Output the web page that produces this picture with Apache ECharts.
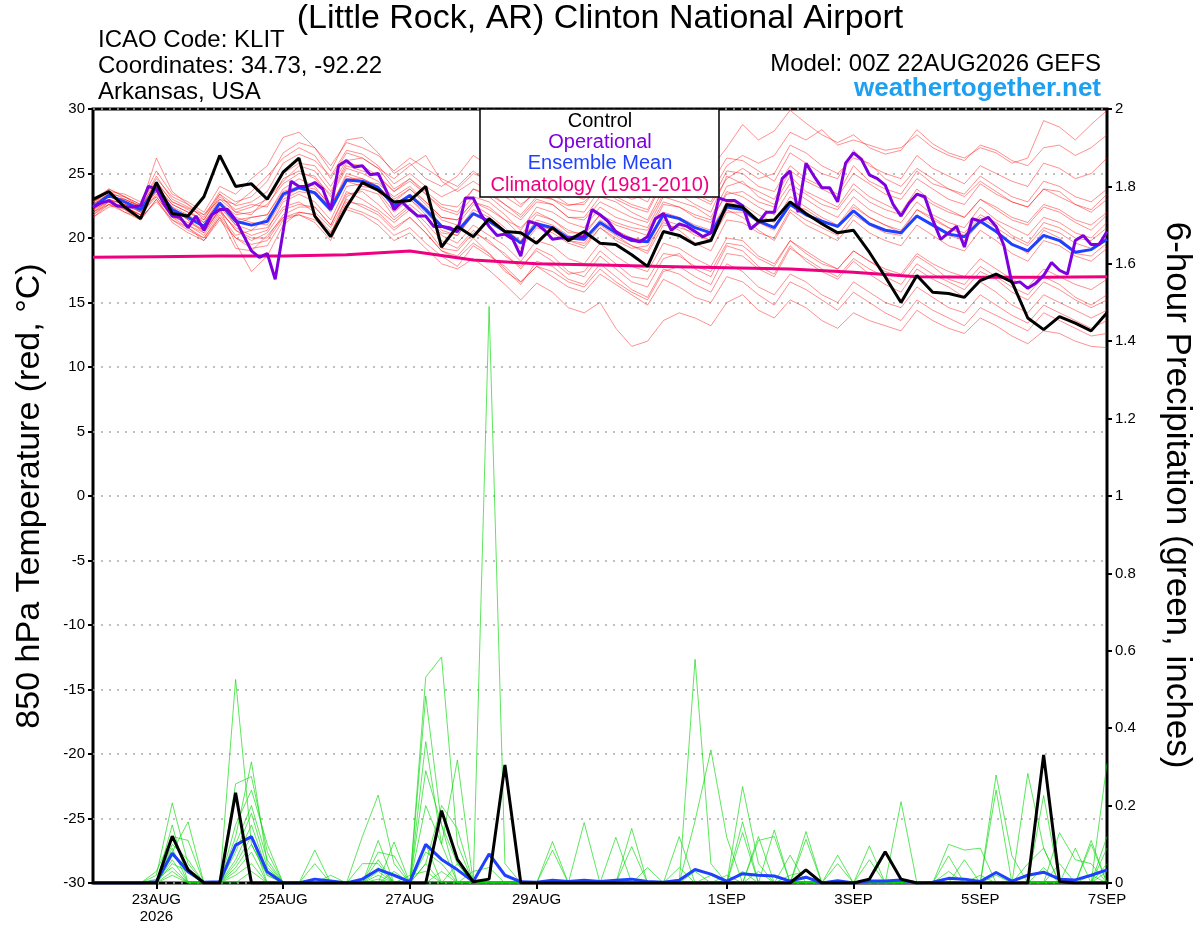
<!DOCTYPE html>
<html>
<head>
<meta charset="utf-8">
<title>KLIT GEFS 850 hPa temperature / precipitation</title>
<script src="https://cdn.jsdelivr.net/npm/echarts@6/dist/echarts.min.js"></script>
<style>
  html, body { margin: 0; padding: 0; background: #fff; }
  #chart { width: 1200px; height: 927px; }
</style>
</head>
<body>
<div id="chart"></div>
<script>
var FONT = '"Liberation Sans", Arial, Helvetica, sans-serif';

// forecast hours from 00Z 22AUG2026, labelled days
var labelHours = [24, 72, 120, 168, 240, 288, 336, 384];
var labelText = ['23AUG\n2026', '25AUG', '27AUG', '29AUG', '1SEP', '3SEP', '5SEP', '7SEP'];

// 850 hPa temperature, 6-hourly (65 values)
var tempControl = [23.0,23.6,22.4,21.5,24.3,21.9,21.7,23.2,26.4, 24.0,24.2,23.0,25.1,26.2,21.7,20.1,22.4, 24.3,23.7,22.8,22.9,24.0,19.3,20.9,20.1, 21.5,20.5,20.4,19.6,20.8,19.8,20.5,19.6, 19.5,18.7,17.8,20.5,20.2,19.5,19.8,22.6, 22.4,21.3,21.4,22.8,21.9,21.1,20.4,20.6, 18.9,17.0,15.0,17.1,15.8,15.7,15.4,16.7, 17.2,16.6,13.8,12.9,13.9,13.4,12.8,14.2];
var tempMean = [22.4,23.3,22.8,22.2,23.9,22.2,21.6,20.9,22.7, 21.3,21.0,21.3,23.4,23.9,23.5,22.2,24.5, 24.4,23.9,22.5,23.3,22.2,20.9,20.5,21.9, 21.3,20.5,19.6,21.1,20.8,20.0,19.9,21.2, 20.4,19.8,19.7,21.8,21.5,20.8,20.4,22.4, 22.2,21.3,20.8,22.6,21.8,21.3,20.9,22.1, 21.1,20.6,20.4,21.7,21.0,20.3,20.1,21.3, 20.5,19.5,19.0,20.2,19.8,18.9,19.1,19.9];
// operational run, 3-hourly (129 values)
var tempOper = [22.4,22.7,22.9,22.5,22.4,22.4,22.5,24.0,23.8,22.6,21.7,21.6,20.8,21.7,20.6,21.8,
  22.2,22.2,21.4,20.2,19.0,18.5,18.8,16.8,20.5,24.4,24.0,24.0,24.3,23.8,22.2,25.6,
  26.0,25.5,25.6,24.9,25.0,23.7,22.2,22.8,22.2,21.7,21.7,20.9,20.9,20.8,20.5,23.1,
  23.1,21.8,20.9,20.2,20.3,19.9,18.6,21.3,21.1,20.6,19.9,20.0,20.0,20.1,20.1,22.2,
  21.8,21.3,20.5,20.1,19.9,19.7,20.1,21.5,21.9,20.6,21.1,20.9,20.5,20.1,20.4,23.1,
  22.9,22.9,22.5,20.7,21.2,22.0,22.0,24.6,25.2,22.0,25.8,24.8,23.9,23.9,22.8,25.8,
  26.6,26.1,24.9,24.6,24.1,22.6,21.7,22.7,23.4,23.2,21.4,19.9,20.4,20.9,19.3,21.5,
  21.3,21.6,20.9,19.4,16.5,16.6,16.1,16.5,17.1,18.1,17.5,17.2,19.8,20.2,19.5,19.5,
  20.5];
// 1981-2010 climatology, daily
var tempClim = [18.5,18.55,18.6,18.6,18.7,19.0,18.3,18.0,17.9,17.8,17.7,17.6,17.35,17.0,16.95,16.95,17.0];

// ensemble members, 6-hourly
var tempMembers = [
 [22.8,23.6,23.0,22.5,24.3,22.8,22.3,21.8,23.4, 22.5,22.8,23.6,25.8,26.5,26.0,24.8,26.8, 26.5,25.6,24.2,25.0,24.0,23.2,23.8,25.0, 24.5,23.8,22.6,23.5,23.0,22.5,22.8,24.0, 23.6,23.0,23.4,25.2,25.0,24.6,25.4,27.0, 28.8,27.6,28.3,29.9,28.9,28.0,27.4,28.0, 27.0,26.5,26.8,28.4,27.3,26.6,26.2,27.0, 26.6,25.8,26.2,29.1,28.6,27.6,28.8,29.9],
 [21.8,22.6,22.0,21.4,23.0,21.2,20.4,19.8,21.6, 20.0,19.5,19.8,21.6,22.0,21.8,20.5,22.2, 21.8,21.0,19.8,20.4,19.2,18.0,17.6,18.4, 17.5,16.4,15.2,16.5,15.8,14.6,14.2,15.0, 13.0,11.6,12.0,13.6,14.2,13.8,13.2,15.0, 15.6,14.4,13.8,15.2,14.6,13.6,13.0,14.2, 13.6,13.2,12.8,14.4,13.6,13.0,12.6,13.8, 13.2,12.4,11.8,12.8,12.6,12.0,11.6,11.5],
 [22.0,23.0,22.6,22.0,23.6,21.8,21.0,20.2,22.0, 20.8,20.2,20.6,22.8,23.4,22.8,21.4,24.0, 24.2,23.6,22.0,23.0,21.8,20.2,19.6,21.0, 20.2,19.4,18.2,19.8,19.4,18.4,18.0,19.6, 18.6,17.8,17.4,19.6,19.2,18.4,17.8,20.0, 19.8,18.6,18.0,19.8,19.0,18.2,17.6,19.0, 18.2,17.4,17.0,18.6,17.8,16.8,16.4,17.8, 17.0,16.2,15.6,17.0,16.4,15.4,14.8,15.6],
 [22.6,23.4,22.4,21.8,24.0,22.6,22.0,21.4,23.2, 22.2,22.6,22.4,24.6,25.2,24.6,23.4,25.6, 25.2,24.8,23.6,24.6,23.4,22.2,21.8,23.2, 22.8,21.8,20.6,22.4,22.0,21.2,20.8,22.4, 21.6,21.2,20.8,23.2,22.8,22.4,21.6,24.0, 24.4,23.2,22.6,24.8,23.6,23.0,22.4,24.2, 23.2,22.6,22.0,23.8,22.8,22.2,21.6,23.0, 22.2,21.4,21.0,22.4,22.0,21.2,20.6,21.8],
 [21.6,22.4,22.6,22.4,23.2,21.6,21.2,20.6,22.2, 20.6,19.8,20.4,22.2,22.6,22.4,21.0,23.4, 23.6,22.6,21.4,22.4,21.2,19.8,19.2,20.6, 19.6,18.8,17.6,19.2,18.6,17.4,17.0,18.6, 17.6,16.6,16.2,18.4,18.8,17.6,17.0,19.4, 19.0,17.8,17.2,19.4,18.2,17.4,16.8,18.2, 17.2,16.4,15.8,17.6,16.8,16.2,15.4,16.6, 15.8,14.8,14.2,15.6,15.0,14.4,13.8,14.4],
 [23.0,23.8,23.2,22.6,24.8,23.0,22.4,21.6,23.6, 22.8,23.2,24.4,26.6,27.4,27.0,25.2,27.6, 27.8,26.6,25.0,25.8,24.6,24.0,24.8,26.4, 25.6,24.4,23.2,24.4,24.0,23.4,23.0,24.6, 24.0,23.4,22.8,25.0,25.6,24.8,24.2,26.2, 26.0,25.2,24.4,26.6,25.8,25.0,24.6,26.8, 25.6,25.0,24.6,26.4,25.4,24.8,24.2,25.6, 25.0,24.4,24.0,25.8,25.4,24.6,25.0,26.2],
 [22.2,22.8,22.8,22.0,23.8,22.0,21.6,20.8,22.6, 21.0,21.6,21.8,23.8,24.6,24.0,22.4,25.0, 24.6,24.0,22.8,23.8,22.6,21.4,21.0,22.6, 21.8,20.8,19.6,21.2,20.6,19.8,19.6,21.0, 20.2,19.4,19.0,21.4,21.0,20.2,19.8,22.2, 21.6,20.6,19.8,22.0,21.0,20.4,19.8,21.4, 20.4,19.8,19.4,21.0,20.2,19.4,19.0,20.6, 19.8,18.8,18.2,19.8,19.4,18.6,18.2,19.2],
 [22.4,23.2,22.8,22.2,23.6,22.4,21.8,21.0,22.8, 21.6,21.2,21.0,23.0,23.6,23.4,22.0,24.4, 24.0,23.8,22.6,23.0,22.0,20.6,20.2,21.8, 21.4,20.4,19.2,20.8,20.4,19.6,19.2,20.8, 19.8,19.2,19.4,21.2,20.6,19.6,19.0,21.4, 21.2,20.4,20.0,22.2,21.4,20.8,20.2,21.8, 21.0,20.4,20.2,21.8,21.0,20.2,19.8,21.2, 20.6,19.6,18.8,20.6,20.0,18.8,18.6,19.6],
 [22.0,22.8,22.0,21.6,22.8,21.4,20.6,20.0,21.8, 20.2,20.6,20.8,22.4,22.8,22.0,20.8,23.0, 22.4,21.8,20.6,21.6,20.4,19.0,18.6,20.0, 18.8,17.6,16.4,18.2,17.8,16.8,16.4,18.0, 17.0,16.0,15.4,17.6,17.2,16.4,15.8,18.0, 17.4,16.2,15.6,17.2,16.6,15.6,15.0,16.6, 15.8,15.0,14.6,16.2,15.4,14.6,14.2,15.6, 14.8,14.0,13.4,14.8,14.2,13.6,13.0,13.6],
 [22.8,23.6,23.4,22.8,25.2,23.4,22.8,22.0,24.0, 23.4,24.6,25.6,27.8,28.2,27.0,25.6,27.4, 27.0,26.4,25.2,26.2,25.4,24.6,24.0,25.2, 24.2,23.2,22.4,23.8,23.4,22.6,22.6,24.2, 23.0,22.4,22.0,24.4,24.0,23.4,22.8,25.2, 25.0,24.0,23.6,25.6,24.6,24.0,23.4,25.6, 24.4,23.8,23.4,25.2,24.2,23.8,23.4,24.8, 24.0,23.2,22.8,24.4,24.0,23.2,22.8,23.8],
 [22.4,23.0,22.2,21.6,24.2,22.2,21.4,20.6,22.4, 21.0,20.6,21.6,23.2,23.8,23.6,22.4,24.8, 24.4,24.2,23.2,24.0,22.8,21.6,21.4,22.8, 22.2,21.4,20.2,21.8,21.4,20.6,20.2,21.8, 21.0,20.6,20.2,22.6,22.4,21.6,21.2,23.6, 23.2,22.4,21.8,23.8,23.0,22.2,21.6,23.2, 22.2,21.6,21.2,22.8,21.8,21.2,20.8,22.4, 21.4,20.8,20.2,21.6,21.2,20.4,20.0,21.2],
 [22.6,23.4,23.2,22.6,24.6,23.2,22.6,21.8,23.0, 22.6,23.6,24.8,26.2,27.0,26.4,24.6,26.6, 26.2,25.4,24.6,25.6,26.4,24.4,23.6,24.4, 23.6,22.6,21.6,23.0,22.6,21.6,21.4,22.8, 22.2,21.6,21.2,23.4,23.6,23.2,22.6,24.6, 25.4,24.6,25.0,27.2,26.6,25.6,25.0,26.2, 25.8,24.6,24.0,25.4,24.6,23.8,23.2,24.4, 23.6,22.8,22.4,23.8,23.6,22.6,22.2,23.4],
 [21.8,22.8,22.4,21.8,23.4,21.8,21.0,20.4,22.2, 20.6,20.0,20.0,21.8,22.4,22.4,21.0,23.6, 23.0,22.2,21.2,22.2,20.8,19.2,19.0,20.4, 19.8,18.6,17.8,19.0,18.2,17.2,17.4,19.0, 18.0,17.0,16.8,18.8,18.6,17.8,17.4,19.6, 19.4,18.4,17.8,19.8,18.8,18.0,17.6,19.0, 18.2,17.6,17.2,18.8,18.0,17.4,17.0,18.4, 17.6,16.8,16.2,17.6,17.0,16.4,16.0,16.8],
 [22.2,23.0,22.6,22.0,23.8,22.4,21.4,20.4,22.2, 19.6,17.4,18.6,21.0,22.0,21.8,20.2,23.2, 23.8,23.4,21.6,22.6,21.6,20.4,20.2,21.8, 21.2,20.4,19.6,21.0,20.6,19.8,19.4,20.8, 20.0,19.4,18.8,21.0,20.8,20.4,19.8,22.0, 22.0,21.2,20.6,22.6,22.2,21.4,20.8,22.4, 21.6,21.0,20.4,22.2,21.6,20.8,20.4,21.8, 21.2,20.2,19.6,21.2,20.8,20.0,19.8,20.8],
 [22.6,23.8,23.2,22.4,26.2,23.6,22.6,21.4,23.4, 22.0,21.8,23.2,25.0,25.8,25.6,24.0,26.0, 26.2,25.4,23.8,24.6,23.6,22.6,22.4,23.8, 23.2,22.2,21.4,22.8,22.6,21.6,21.6,23.2, 22.8,22.0,21.4,23.8,23.4,22.6,22.0,24.8, 24.2,23.6,23.0,25.2,24.4,23.8,23.2,25.0, 24.2,23.4,23.0,24.6,23.8,23.0,22.6,24.2, 23.4,22.8,22.4,23.8,23.2,22.6,22.0,23.0],
 [22.0,22.6,22.4,21.8,23.2,21.6,20.8,20.0,21.6, 19.2,19.0,20.2,21.6,21.8,21.2,19.8,22.4, 22.0,21.4,20.2,20.8,19.6,18.6,17.8,19.4, 18.6,17.8,16.6,17.8,17.0,16.2,15.8,17.2, 16.4,15.6,14.8,16.8,16.2,15.4,15.0,17.0, 16.6,15.6,14.8,16.6,16.0,15.2,14.4,15.8, 15.0,14.2,13.6,15.2,14.4,13.8,13.2,14.6, 14.0,13.4,12.8,14.2,13.6,13.0,12.4,12.6],
 [22.8,23.4,22.8,22.4,24.4,22.8,22.2,21.2,22.8, 21.8,22.0,22.6,24.2,25.0,24.8,23.2,25.4, 25.0,24.4,23.0,23.8,22.8,21.6,21.4,22.8, 22.4,21.4,20.8,22.0,21.4,20.4,20.4,21.8, 21.2,20.8,20.6,22.8,22.4,21.8,21.4,23.4, 23.6,22.8,22.4,24.2,23.4,22.6,22.2,23.8, 22.8,22.2,21.8,23.4,22.6,22.0,21.6,23.0, 22.4,21.6,21.2,22.6,22.2,21.4,21.0,22.0],
 [22.4,23.2,23.0,22.4,24.0,22.6,22.0,21.2,23.0, 22.0,22.4,23.0,24.4,25.6,25.2,23.6,25.8, 25.6,24.8,23.6,24.4,23.4,22.4,22.0,23.8, 23.4,22.6,21.8,23.2,23.0,22.2,22.0,23.8, 23.2,22.6,22.2,24.6,24.4,23.8,23.4,25.6, 26.4,25.8,26.4,28.2,27.6,28.4,27.2,27.6, 27.2,26.8,27.0,28.0,27.0,26.4,26.0,27.2, 26.8,26.0,25.6,27.0,27.2,26.4,27.0,28.0],
 [21.6,22.6,22.2,21.4,23.0,21.4,20.8,19.8,21.4, 20.0,19.2,19.4,21.4,21.8,21.4,20.4,22.8, 22.6,22.0,20.8,21.6,20.4,19.0,18.4,19.6, 18.8,17.4,16.6,17.8,17.4,16.6,16.2,17.6, 16.6,15.8,15.2,17.4,17.8,17.0,16.4,18.8, 18.6,17.6,17.0,19.2,18.4,17.6,17.0,18.4, 17.6,17.0,16.4,18.0,17.2,16.6,16.0,17.4, 16.8,15.8,15.2,16.6,16.0,15.2,14.6,15.2],
 [22.2,23.2,23.0,22.4,24.2,22.0,21.6,21.0,22.6, 21.4,21.6,21.8,23.6,24.0,23.8,22.6,24.6, 24.6,24.0,22.6,23.4,22.4,21.0,20.6,22.2, 21.6,20.6,19.8,21.4,21.0,20.2,19.8,21.4, 20.6,20.0,19.8,22.0,21.6,21.0,20.6,22.8, 22.6,21.8,21.2,23.2,22.4,21.6,21.0,22.6, 21.6,21.0,20.6,22.2,21.4,20.8,20.2,21.6, 20.8,20.0,19.4,20.8,20.4,19.6,19.2,20.2]
];

// 6-hour precipitation (inches), 6-hourly
var precipControl = [0,0,0,0,0,0.121,0.034,0,0,0.233,0,0,0, 0,0,0,0,0,0,0,0,0,0.187,0.061,0.003,0.01, 0.305,0,0,0,0,0,0,0,0,0,0,0,0, 0,0,0,0,0,0,0.034,0,0,0,0.01,0.081,0.01, 0,0,0,0,0,0,0,0,0.331,0.003,0,0,0];
var precipMean = [0,0,0,0,0.003,0.077,0.029,0.002,0.003,0.098,0.12,0.029,0, 0,0.01,0.005,0,0.01,0.035,0.02,0.003,0.1,0.061,0.034,0.004,0.075, 0.02,0.003,0.002,0.007,0.004,0.007,0.004,0.007,0.01,0.004,0.002,0.007,0.035, 0.023,0.005,0.024,0.02,0.018,0.005,0.015,0,0.006,0,0.005,0.005,0.008, 0,0.002,0.012,0.01,0.004,0.027,0.005,0.02,0.028,0.01,0.008,0.02,0.034];
var precipMembers = [
 [0,0,0,0,0.02,0.207,0.05,0,0,0.526,0.1,0.02,0, 0,0,0,0,0,0.06,0,0,0.532,0.584,0.1,0,0, 0,0,0,0.107,0,0,0,0,0,0,0,0,0.578, 0.05,0,0.03,0,0,0,0,0,0,0,0,0,0, 0,0,0,0,0,0.279,0.07,0,0,0,0,0,0.309],
 [0,0,0,0,0,0.08,0.158,0,0,0.12,0.313,0.05,0, 0,0,0,0,0,0,0,0,0.05,0.2,0.14,0,1.49, 0.05,0,0,0,0,0,0,0.118,0,0,0,0,0, 0,0,0.249,0.05,0,0,0,0,0,0,0,0,0, 0,0,0,0,0,0,0,0.283,0.09,0,0,0,0],
 [0,0,0,0,0,0.15,0,0,0,0.256,0.275,0.08,0, 0,0,0,0,0.12,0.227,0.05,0,0.483,0.15,0,0,0, 0,0,0,0,0,0.156,0,0,0,0,0,0,0.161, 0.344,0.118,0,0,0,0,0,0,0,0,0,0,0, 0,0,0,0,0,0.24,0,0,0,0.05,0,0,0.12],
 [0,0,0,0,0.03,0.12,0.11,0,0,0.15,0.24,0.1,0, 0,0.085,0,0,0,0.11,0,0,0.365,0.1,0.318,0,0, 0,0,0,0,0,0,0,0,0.141,0,0,0,0, 0,0,0.158,0,0.137,0,0.133,0,0,0,0,0,0, 0,0,0,0,0,0,0,0,0.226,0,0,0.11,0],
 [0,0,0,0,0,0.1,0.06,0,0,0.1,0.2,0.06,0, 0,0.05,0,0,0,0,0.106,0,0.29,0.15,0.05,0,0, 0,0,0,0.085,0,0,0,0,0.094,0,0,0.12,0, 0,0,0.13,0,0,0,0.113,0,0,0,0,0,0.21, 0,0,0,0,0,0,0,0,0,0,0.09,0,0],
 [0,0,0,0,0,0.09,0,0,0,0.08,0.18,0.04,0, 0,0,0,0,0,0.08,0.07,0,0.2,0.1,0,0,0, 0,0,0,0,0,0,0,0,0,0.04,0,0,0, 0,0,0,0.12,0,0.072,0,0,0.072,0,0,0,0, 0,0,0.1,0.085,0.09,0,0,0,0,0,0,0.1,0],
 [0,0,0,0,0,0.07,0.04,0,0,0.06,0.15,0.03,0, 0,0,0,0,0.05,0.05,0,0,0.1,0,0.05,0,0, 0,0,0,0,0,0,0,0,0,0,0,0.04,0, 0,0,0,0.11,0.12,0,0,0,0,0,0.096,0,0, 0,0,0.07,0,0,0,0,0.05,0.09,0,0,0,0.09],
 [0,0,0,0,0,0.06,0,0,0,0.05,0.12,0,0, 0,0,0,0,0,0.04,0,0,0.05,0,0,0.03,0.04, 0,0,0,0,0,0,0,0,0,0,0,0,0.03, 0,0.02,0,0,0,0.02,0.03,0,0.05,0,0.06,0,0, 0,0,0,0.06,0,0.03,0,0,0,0.13,0.06,0.05,0],
 [0,0,0,0,0,0.05,0.03,0,0,0.04,0.1,0.02,0, 0,0,0,0,0,0,0.03,0,0.08,0.05,0,0,0, 0,0,0,0,0,0,0,0,0,0,0,0,0, 0,0,0,0,0,0,0,0,0,0,0,0,0, 0,0,0.03,0,0,0,0,0,0.04,0,0,0,0.05],
 [0,0,0,0,0.01,0.04,0,0,0,0.03,0.08,0,0, 0,0,0,0,0,0.03,0,0.02,0.03,0,0,0,0, 0,0,0,0,0,0,0,0,0,0,0,0,0, 0.02,0,0,0.03,0,0,0,0,0,0,0,0,0, 0,0,0,0,0,0,0,0,0,0,0,0,0],
 [0,0,0,0,0,0.03,0,0,0,0.02,0.05,0,0, 0,0,0.02,0,0,0.02,0,0,0,0.03,0,0,0, 0,0,0,0,0,0,0,0,0,0,0,0,0, 0,0,0,0,0,0,0,0,0,0,0,0,0, 0,0,0,0,0.02,0,0,0,0,0,0,0.02,0],
 [0,0,0,0,0,0.02,0,0,0,0,0.03,0,0, 0,0,0,0,0,0.01,0,0,0,0,0,0,0, 0,0,0,0,0,0,0,0,0,0,0,0,0, 0,0,0,0,0,0,0,0,0,0,0,0,0, 0,0,0,0,0,0.02,0,0,0,0,0,0,0.03]
];

function pairs(arr, step) {
  return arr.map(function (v, i) { return [i * step, v]; });
}

var series = [];
tempMembers.forEach(function (m) {
  series.push({
    type: 'line', yAxisIndex: 0, data: pairs(m, 6), symbol: 'none', silent: true, z: 2,
    lineStyle: { color: 'rgba(255,0,0,0.55)', width: 0.8 }
  });
});
precipMembers.forEach(function (m) {
  series.push({
    type: 'line', yAxisIndex: 1, data: pairs(m, 6), symbol: 'none', silent: true, z: 2,
    lineStyle: { color: 'rgba(0,215,0,0.8)', width: 0.8 }
  });
});
series.push(
  { name: 'Climatology (1981-2010)', type: 'line', yAxisIndex: 0, data: pairs(tempClim, 24), symbol: 'none', z: 3,
    lineStyle: { color: '#ee0080', width: 3 } },
  { name: 'precip mean', type: 'line', yAxisIndex: 1, data: pairs(precipMean, 6), symbol: 'none', z: 4,
    lineStyle: { color: '#2040ff', width: 3 } },
  { name: 'precip control', type: 'line', yAxisIndex: 1, data: pairs(precipControl, 6), symbol: 'none', z: 5,
    lineStyle: { color: '#000', width: 3 } },
  { name: 'Ensemble Mean', type: 'line', yAxisIndex: 0, data: pairs(tempMean, 6), symbol: 'none', z: 4,
    lineStyle: { color: '#2040ff', width: 3 } },
  { name: 'Operational', type: 'line', yAxisIndex: 0, data: pairs(tempOper, 3), symbol: 'none', z: 5,
    lineStyle: { color: '#7f00df', width: 3 } },
  { name: 'Control', type: 'line', yAxisIndex: 0, data: pairs(tempControl, 6), symbol: 'none', z: 6,
    lineStyle: { color: '#000', width: 3 } }
);

function txt(x, y, text, size, color, align, extra) {
  var el = {
    type: 'text', x: x, y: y, z: 100,
    style: {
      text: text, fill: color, font: (extra && extra.bold ? 'bold ' : '') + size + 'px ' + FONT,
      textAlign: align, align: align, textVerticalAlign: 'middle', verticalAlign: 'middle'
    }
  };
  if (extra && extra.rotation) el.rotation = extra.rotation;
  return el;
}

var chart = echarts.init(document.getElementById('chart'));
chart.setOption({
  animation: false,
  backgroundColor: '#fff',
  textStyle: { fontFamily: FONT },
  grid: { left: 93, right: 93, top: 109, bottom: 44, show: true, borderColor: '#000', borderWidth: 3 },
  xAxis: {
    type: 'value', min: 0, max: 384,
    axisLine: { show: false, onZero: false },
    splitLine: { show: false },
    axisTick: { show: true, customValues: labelHours, length: 6, lineStyle: { color: '#000', width: 2 } },
    axisLabel: {
      customValues: labelHours, color: '#000', fontSize: 15, margin: 8, lineHeight: 17,
      formatter: function (v) { var k = labelHours.indexOf(v); return k >= 0 ? labelText[k] : ''; }
    }
  },
  yAxis: [
    {
      type: 'value', min: -30, max: 30, interval: 5, position: 'left',
      axisLine: { show: false },
      axisTick: { show: true, length: 5, lineStyle: { color: '#000', width: 2 } },
      axisLabel: { color: '#000', fontSize: 15, margin: 8 },
      splitLine: { show: true, lineStyle: { color: '#aaa', width: 1.5, type: [2, 6] } }
    },
    {
      type: 'value', min: 0, max: 2, interval: 0.2, position: 'right',
      axisLine: { show: false },
      axisTick: { show: true, length: 5, lineStyle: { color: '#000', width: 2 } },
      axisLabel: { color: '#000', fontSize: 15, margin: 8 },
      splitLine: { show: false }
    }
  ],
  graphic: [
    txt(600, 19, '(Little Rock, AR) Clinton National Airport', 34, '#000', 'center'),
    txt(98, 40, 'ICAO Code: KLIT', 24, '#000', 'left'),
    txt(98, 66, 'Coordinates: 34.73, -92.22', 24, '#000', 'left'),
    txt(98, 92, 'Arkansas, USA', 24, '#000', 'left'),
    txt(1101, 64, 'Model: 00Z 22AUG2026 GEFS', 24, '#000', 'right'),
    txt(1101, 89, 'weathertogether.net', 26, '#1ea0f0', 'right', { bold: true }),
    txt(30, 496, '850 hPa Temperature (red, \u00B0C)', 34, '#000', 'center', { rotation: Math.PI / 2 }),
    txt(1177, 495, '6-hour Precipitation (green, inches)', 35, '#000', 'center', { rotation: -Math.PI / 2 }),
    {
      type: 'rect', z: 99,
      shape: { x: 480, y: 109, width: 239, height: 88 },
      style: { fill: '#fff', stroke: '#000', lineWidth: 1.5 }
    },
    txt(600, 121, 'Control', 20, '#000', 'center'),
    txt(600, 142, 'Operational', 20, '#7f00df', 'center'),
    txt(600, 163, 'Ensemble Mean', 20, '#2040ff', 'center'),
    txt(600, 185, 'Climatology (1981-2010)', 20, '#ee0080', 'center')
  ],
  series: series
});
</script>
</body>
</html>
